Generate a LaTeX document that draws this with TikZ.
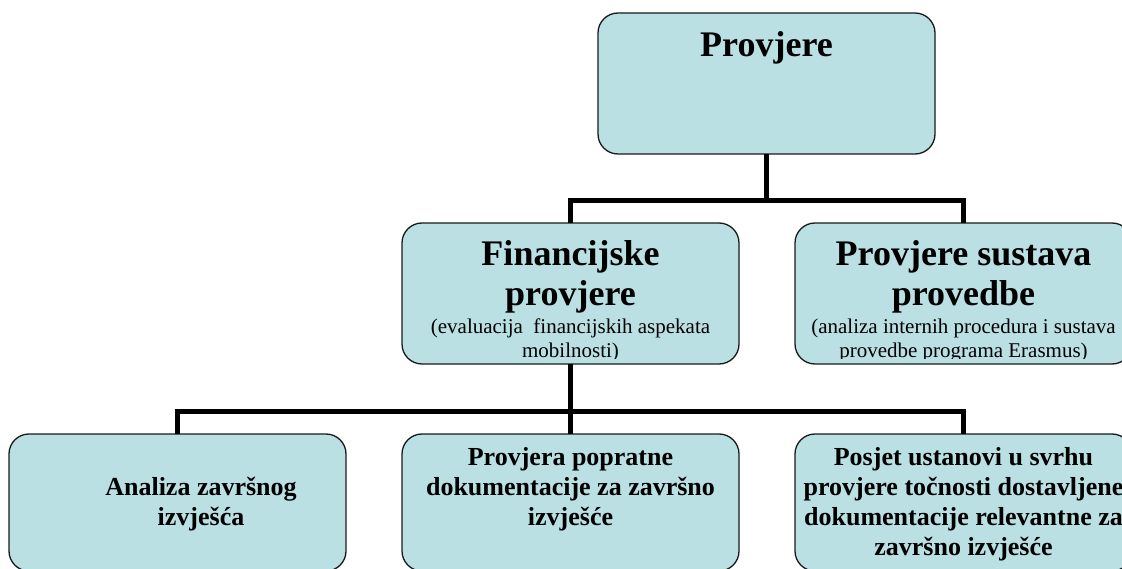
\documentclass[tikz,border=0pt]{standalone}
\usepackage{fontspec}
\setmainfont{Liberation Serif}
\definecolor{boxfill}{HTML}{BBE0E3}
\definecolor{boxline}{HTML}{1A1A1A}
\begin{document}
\begin{tikzpicture}[x=1pt,y=-1pt,
  box/.style={draw=boxline, line width=1.3pt, fill=boxfill, rounded corners=20pt,
    minimum width=337pt, minimum height=141pt, inner sep=0pt, outer sep=0pt},
  leafbox/.style={box, minimum height=137pt},
  conn/.style={line width=5pt, draw=black},
  title/.style={font=\fontsize{36}{40}\selectfont\bfseries, align=center, anchor=base, inner sep=0pt},
  sub/.style={font=\fontsize{21}{24}\selectfont, align=center, anchor=base, inner sep=0pt},
  leaf/.style={font=\fontsize{26}{30}\selectfont\bfseries, align=center, anchor=base, inner sep=0pt}]
\useasboundingbox (0,0) rectangle (1122,569);
% boxes
\node[box] (top) at (766.5,83.5) {};
\node[box] (fin) at (570.5,293.5) {};
\node[box] (sus) at (963.5,293.5) {};
\node[leafbox] (b1) at (177.5,502.5) {};
\node[leafbox] (b2) at (570.5,502.5) {};
\node[leafbox] (b3) at (963.5,502.5) {};
% connectors
\draw[conn] (top.south) -- ++(0,47) coordinate (j1);
\draw[conn] (fin.north) |- (j1) -| (sus.north);
\draw[conn] (fin.south) -- ++(0,47) coordinate (j2);
\draw[conn] (b1.north) |- (j2) -| (b3.north);
\draw[conn] (j2) -- (b2.north);
% texts (anchor base = baseline of the last line)
\node[title] (topT) at (766.5,57) {Provjere};
\node[title] (finT) at (570.5,306) {Financijske\\provjere};
\node[title] (susT) at (963.5,306) {Provjere sustava\\provedbe};
\begin{scope}
  \clip (402,310) rectangle (739,358.5);
  \node[sub] (finS) at (570.5,357) {(evaluacija\ \ financijskih aspekata\\mobilnosti)};
\end{scope}
\begin{scope}
  \clip (795,310) rectangle (1132,358.5);
  \node[sub] (susS) at (963.5,357) {(analiza internih procedura i sustava\\provedbe programa Erasmus)};
\end{scope}
\node[leaf] (b1T) at (201,525) {Analiza završnog\\izvješća};
\node[leaf] (b2T) at (570.5,525) {Provjera popratne\\dokumentacije za završno\\izvješće};
\node[leaf] (b3T) at (963.5,555) {Posjet ustanovi u svrhu\\provjere točnosti dostavljene\\dokumentacije relevantne za\\završno izvješće};
\end{tikzpicture}
\end{document}
